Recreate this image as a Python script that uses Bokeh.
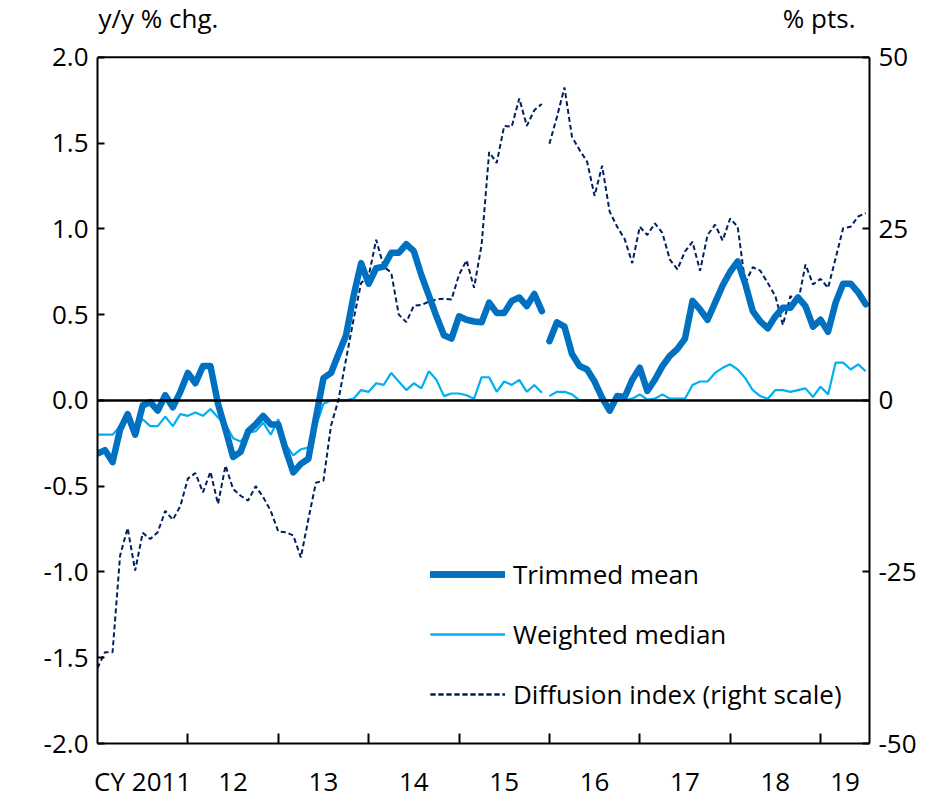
import numpy as np
from bokeh.plotting import figure
from bokeh.models import (Range1d, LinearAxis, FixedTicker, PrintfTickFormatter,
                          Span, Legend, LegendItem, Label)
from bokeh.embed import file_html
from bokeh.resources import INLINE

# ---------------- data (monthly, Jan 2011 = 0 ... Jul 2019 = 102) ----------------
months = list(range(103))
break_index = 60  # Jan 2016: series rebased, lines are broken here

trimmed_mean = [
    -0.31, -0.29, -0.36, -0.17, -0.08, -0.20, -0.03, -0.01, -0.06, 0.03, -0.04, 0.05,
    0.16, 0.10, 0.20, 0.20, -0.02, -0.17, -0.33, -0.30, -0.18, -0.14, -0.09, -0.14,
    -0.14, -0.29, -0.42, -0.37, -0.34, -0.10, 0.13, 0.16, 0.27, 0.38, 0.61, 0.80,
    0.68, 0.77, 0.78, 0.86, 0.86, 0.91, 0.87, 0.73, 0.61, 0.49, 0.38, 0.36,
    0.49, 0.47, 0.46, 0.455, 0.57, 0.51, 0.51, 0.58, 0.60, 0.55, 0.62, 0.52,
    0.345, 0.455, 0.43, 0.27, 0.20, 0.18, 0.11, 0.015, -0.06, 0.025, 0.02, 0.12,
    0.19, 0.055, 0.12, 0.20, 0.26, 0.30, 0.36, 0.58, 0.53, 0.47, 0.57, 0.67,
    0.75, 0.81, 0.68, 0.52, 0.46, 0.42, 0.49, 0.54, 0.54, 0.60, 0.55, 0.43,
    0.47, 0.40, 0.57, 0.68, 0.68, 0.63, 0.56,
]
weighted_median = [
    -0.20, -0.20, -0.20, -0.15, -0.10, -0.16, -0.11, -0.15, -0.15, -0.095, -0.15, -0.08,
    -0.09, -0.07, -0.09, -0.05, -0.10, -0.14, -0.22, -0.24, -0.19, -0.18, -0.13, -0.20,
    -0.11, -0.26, -0.32, -0.285, -0.275, -0.15, -0.02, 0.0, 0.0, 0.0, 0.01, 0.06,
    0.05, 0.10, 0.09, 0.16, 0.11, 0.06, 0.10, 0.07, 0.17, 0.12, 0.025, 0.04,
    0.04, 0.03, 0.01, 0.135, 0.135, 0.05, 0.11, 0.09, 0.12, 0.05, 0.09, 0.045,
    0.025, 0.05, 0.05, 0.035, 0.0, 0.0, 0.0, 0.0, 0.0, 0.0, 0.0, 0.01,
    0.035, 0.005, 0.01, 0.035, 0.01, 0.01, 0.01, 0.09, 0.11, 0.11, 0.16, 0.19,
    0.21, 0.18, 0.13, 0.06, 0.025, 0.01, 0.06, 0.06, 0.05, 0.06, 0.07, 0.02,
    0.08, 0.035, 0.22, 0.22, 0.18, 0.21, 0.17,
]
diffusion_index = [
    -39.0, -36.7, -36.7, -22.6, -18.6, -24.8, -19.3, -20.2, -19.2, -16.1, -17.4, -15.4,
    -11.4, -10.6, -13.4, -10.4, -15.1, -9.5, -12.9, -13.9, -14.6, -12.5, -14.1, -16.1,
    -19.1, -19.2, -19.7, -22.9, -17.3, -12.0, -11.7, -3.7, 0.1, 6.0, 11.8, 17.1,
    18.1, 23.4, 19.5, 18.6, 12.5, 11.4, 13.8, 13.9, 14.4, 14.7, 14.8, 14.7,
    18.3, 20.4, 16.4, 22.7, 36.2, 34.6, 40.0, 39.9, 44.0, 40.0, 42.3, 43.2,
    37.4, 41.3, 45.6, 38.4, 36.5, 34.8, 29.8, 34.2, 27.5, 25.3, 23.5, 20.0,
    25.3, 24.1, 25.8, 24.4, 20.5, 19.1, 21.7, 23.1, 18.9, 24.1, 25.6, 23.3,
    26.5, 25.3, 17.1, 19.4, 18.9, 17.1, 15.2, 11.0, 15.2, 14.2, 19.8, 16.9,
    17.7, 16.4, 20.7, 25.1, 25.3, 26.8, 27.3,
]
year_labels = ["CY 2011", "12", "13", "14", "15", "16", "17", "18", "19"]
left_ticks = [-2.0, -1.5, -1.0, -0.5, 0.0, 0.5, 1.0, 1.5, 2.0]
right_ticks = [-50, -25, 0, 25, 50]

# ---------------- styling / layout ----------------
FONT = "Open Sans"
FS = "26px"
TM_COLOR = "#0070C0"
WM_COLOR = "#00B0F0"
DI_COLOR = "#002060"

W, H = 943, 801
BORDER_L, BORDER_R, BORDER_B = 97, 74, 55
TOP_PAD = 57          # px between canvas top and the 2.0 / 50 line
UNIT_LABEL_PX = 18    # px from canvas top to centre of the unit labels

frame_h = H - BORDER_B
y_lo, y_hi = left_ticks[0], left_ticks[-1]
r_lo, r_hi = right_ticks[0], right_ticks[-1]
y_end = y_hi + (y_hi - y_lo) * TOP_PAD / (frame_h - TOP_PAD)
r_end = r_hi + (r_hi - r_lo) * TOP_PAD / (frame_h - TOP_PAD)
y_unit = y_hi + (y_hi - y_lo) * (TOP_PAD - UNIT_LABEL_PX) / (frame_h - TOP_PAD)

x_end = 102.5
px_per_month = (W - BORDER_L - BORDER_R) / x_end
year_starts = [12 * k for k in range(1, len(year_labels))]
bounds = [0] + year_starts + [x_end]
label_pos = [(bounds[k] + bounds[k + 1]) / 2 for k in range(len(year_labels))]

p = figure(width=W, height=H, x_range=Range1d(0, x_end), y_range=Range1d(y_lo, y_end),
           output_backend="svg", toolbar_location=None,
           min_border_left=BORDER_L, min_border_right=BORDER_R, min_border_top=0,
           min_border_bottom=BORDER_B)
p.extra_y_ranges = {"di": Range1d(r_lo, r_end)}
p.xgrid.visible = False
p.ygrid.visible = False
p.outline_line_color = None
p.background_fill_color = "white"
p.border_fill_color = "white"

b = break_index
segments = [(0, b), (b, len(months))]

wm_r, di_r, tm_r = [], [], []
for s, e in segments:
    wm_r.append(p.line(months[s:e], weighted_median[s:e], line_color=WM_COLOR, line_width=2.2))
for s, e in segments:
    di_r.append(p.line(months[s:e], diffusion_index[s:e], y_range_name="di",
                       line_color=DI_COLOR, line_width=2, line_dash="5 3"))

p.add_layout(Span(location=0, dimension="width", line_color="black", line_width=2.5, level="glyph"))

for s, e in segments:
    tm_r.append(p.line(months[s:e], trimmed_mean[s:e], line_color=TM_COLOR, line_width=6.5,
                       line_join="round", line_cap="round"))

# top border of the plot box
p.add_layout(Span(location=y_hi, dimension="width", line_color="black", line_width=2))

# ---------------- axes ----------------
xa = p.xaxis[0]
xa.ticker = FixedTicker(ticks=label_pos, minor_ticks=year_starts)
xa.major_label_overrides = {pos: lab for pos, lab in zip(label_pos, year_labels)}
xa.major_tick_in = 0
xa.major_tick_out = 0
xa.minor_tick_in = 10
xa.minor_tick_out = 0
xa.minor_tick_line_color = "black"
xa.minor_tick_line_width = 2
xa.major_label_standoff = 19

ya = p.yaxis[0]
ya.ticker = FixedTicker(ticks=left_ticks)
ya.formatter = PrintfTickFormatter(format="%.1f")
ya.bounds = (y_lo, y_hi)
ya.major_tick_in = 7
ya.major_tick_out = 0
ya.minor_tick_in = 0
ya.minor_tick_out = 0
ya.major_label_standoff = 9

ra = LinearAxis(y_range_name="di", ticker=FixedTicker(ticks=right_ticks))
ra.formatter = PrintfTickFormatter(format="%d")
ra.bounds = (r_lo, r_hi)
ra.major_tick_in = 7
ra.major_tick_out = 0
ra.minor_tick_in = 0
ra.minor_tick_out = 0
ra.major_label_standoff = 9
p.add_layout(ra, "right")

for ax in (xa, ya, ra):
    ax.axis_line_color = "black"
    ax.axis_line_width = 2
    ax.major_tick_line_color = "black"
    ax.major_tick_line_width = 2
    ax.major_label_text_font = FONT
    ax.major_label_text_font_size = FS
    ax.major_label_text_color = "black"

# ---------------- unit labels ----------------
p.add_layout(Label(x=1 / px_per_month, y=y_unit, text="y/y % chg.", text_align="left",
                   text_baseline="middle", text_font=FONT, text_font_size=FS, text_color="black"))
p.add_layout(Label(x=x_end - 14 / px_per_month, y=y_unit, text="% pts.", text_align="right",
                   text_baseline="middle", text_font=FONT, text_font_size=FS, text_color="black"))

# ---------------- legend ----------------
legend = Legend(items=[
    LegendItem(label="Trimmed mean", renderers=tm_r),
    LegendItem(label="Weighted median", renderers=wm_r),
    LegendItem(label="Diffusion index (right scale)", renderers=di_r),
], location=(333, 31), orientation="vertical", glyph_width=75, glyph_height=26,
    label_height=26, label_standoff=8, spacing=24, padding=0, margin=0,
    border_line_alpha=0, background_fill_alpha=0,
    label_text_font=FONT, label_text_font_size=FS, label_text_color="black")
p.add_layout(legend)

open("out.html", "w").write(file_html(p, INLINE))
